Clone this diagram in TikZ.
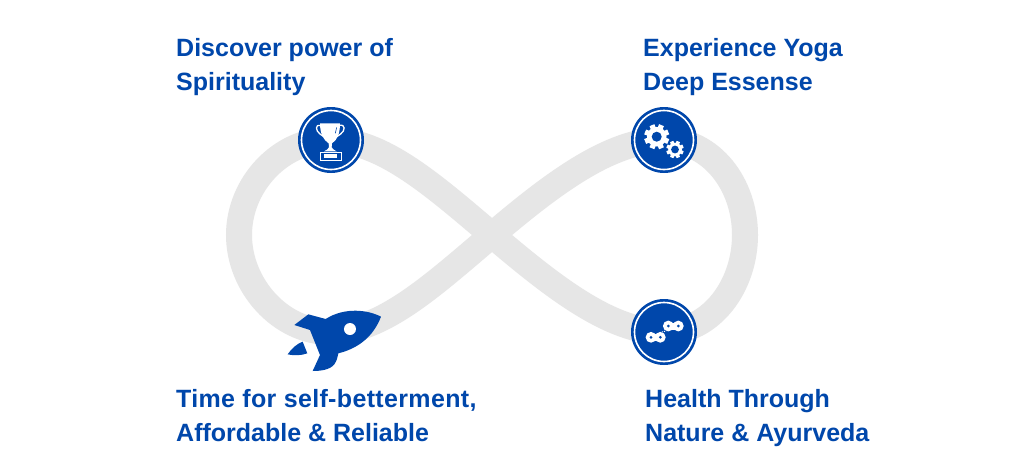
\documentclass[tikz,border=0pt]{standalone}
\usepackage{fontspec}
\setmainfont{Liberation Sans}
\definecolor{brand}{HTML}{0047AB}
\definecolor{track}{HTML}{E6E6E6}
\tikzset{
  label text/.style={font=\bfseries\fontsize{25}{34}\selectfont,text=brand,align=left,anchor=north west,inner sep=0pt,text depth=0pt},
  badge/.style={circle,fill=brand,minimum size=66pt,inner sep=0pt},
  ring/.style={draw=white,line width=1.6pt},
  icon/.style={fill=white,draw=none},
}
\begin{document}
\begin{tikzpicture}[x=1pt,y=-1pt]
\useasboundingbox (0,0) rectangle (1024,459);
\fill[white] (0,0) rectangle (1024,459);
% infinity track
\draw[track,line width=26pt]
  (492,235) .. controls (552,184) and (610,140) .. (664,140)
  .. controls (712,140) and (745,185) .. (745,235)
  .. controls (745,285) and (712,332) .. (664,332)
  .. controls (610,332) and (552,286) .. (492,235)
  .. controls (432,184) and (382,140) .. (330,140)
  .. controls (280,140) and (239,185) .. (239,235)
  .. controls (239,285) and (280,332) .. (330,332)
  .. controls (382,332) and (432,286) .. (492,235) -- cycle;
% badges
\node[badge] (b1) at (331,140) {};
\node[badge] (b2) at (664,140) {};
\node[badge] (b3) at (664,332) {};
\foreach \n in {b1,b2,b3} \draw[ring] (\n.center) circle (29.5pt);
% trophy
\begin{scope}[shift={(280,90)},x=0.3333pt,y=-0.3333pt]
  \draw[white,line width=1.3pt] (122,106) .. controls (105,102) and (106,122) .. (120,132) .. controls (126,137) and (132,140) .. (137,143);
  \draw[white,line width=1.3pt] (178,106) .. controls (197,102) and (196,122) .. (182,132) .. controls (176,137) and (170,140) .. (165,143);
  \fill[icon] (120,100) -- (180,100) .. controls (180,130) and (172,150) .. (156,160)
     -- (155,172) .. controls (156,178) and (165,180) .. (170,184) -- (132,184) .. controls (138,180) and (146,178) .. (147,172)
     -- (146,160) .. controls (130,150) and (120,130) .. (120,100) -- cycle;
  \draw[brand,line width=0.6pt] (170,112) -- (166,130);
  \draw[white,line width=1pt] (120,186) rectangle (185,210);
  \fill[icon] (133,192) rectangle (172,203);
\end{scope}
% gears
\foreach \cx/\cy/\ro/\ri/\h/\w in {656.7/136.7/9.8/5/12.5/2.6, 675/149.5/6.8/3.9/8.7/1.8} {
  \begin{scope}[shift={(\cx,\cy)}]
    \foreach \a in {0,45,...,315}
      \fill[white,rotate=\a+22.5] (-\w,0) rectangle (\w,\h);
    \fill[white] (0,0) circle (\ro pt);
    \fill[brand] (0,0) circle (\ri pt);
  \end{scope}
}
% chain
\draw[white,line width=7pt] (651,337.3) -- (660.3,337.3);
\draw[white,line width=7pt] (668.3,326) -- (678.3,326);
\foreach \cx/\cy in {651/337.3,660.3/337.3,668.3/326,678.3/326} {
  \fill[white] (\cx,\cy) circle (5.4pt);
  \fill[brand] (\cx,\cy) circle (1.5pt);
}
\draw[white,line width=1pt,dash pattern=on 1pt off 1pt] (662,332) -- (666,331);
% rocket
\begin{scope}[shift={(275,295)},x=0.3333pt,y=-0.3333pt]
  \fill[brand] (318,65) .. controls (280,45) and (210,35) .. (152,72)
    -- (100,58) -- (58,90) -- (105,105) -- (135,180) -- (113,228)
    .. controls (135,228) and (165,225) .. (178,208) .. controls (186,196) and (188,186) .. (190,175)
    .. controls (250,160) and (295,125) .. (318,65) -- cycle;
  \fill[white] (225,102) circle (6pt);
  \fill[brand] (38,178) .. controls (50,160) and (65,147) .. (83,140) -- (97,175) .. controls (78,182) and (55,182) .. (38,178) -- cycle;
\end{scope}
% labels
\node[label text] (t1) at (176,38.5) {Discover power of\\Spirituality};
\node[label text] (t2) at (643,38.5) {Experience Yoga\\Deep Essense};
\node[label text] (t3) at (176,389.5) {{\addfontfeature{LetterSpace=1.4}Time for self-betterment,}\\Affordable \& Reliable};
\node[label text] (t4) at (645,389.5) {Health Through\\Nature \& Ayurveda};
\end{tikzpicture}
\end{document}
